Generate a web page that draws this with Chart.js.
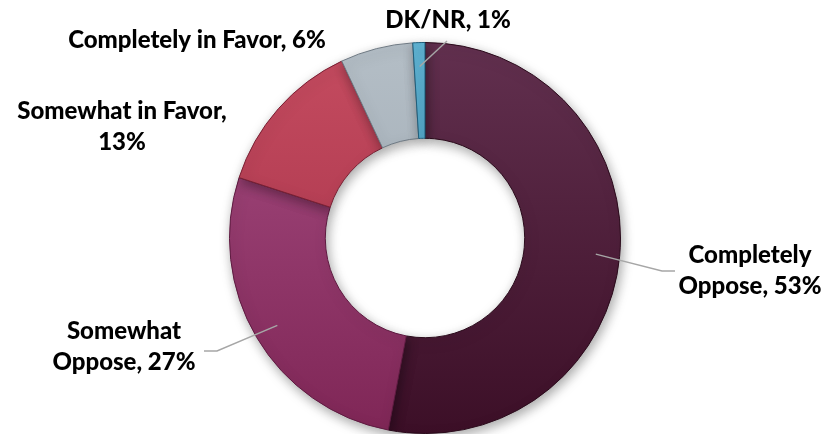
<!DOCTYPE html>
<html>
<head>
<meta charset="utf-8">
<script src="https://cdn.jsdelivr.net/npm/chart.js@4/dist/chart.umd.min.js"></script>
<style>
  html, body { margin: 0; padding: 0; background: #ffffff; }
  #wrap { position: relative; width: 829px; height: 434px; }
</style>
</head>
<body>
<div id="wrap"><canvas id="chart"></canvas></div>
<script>
// Values
const categories = ['Completely Oppose', 'Somewhat Oppose', 'Somewhat in Favor', 'Completely in Favor', 'DK/NR'];
const shares = [53, 27, 13, 6, 1];

// top / bottom shade of each slice
const topColors = ['#62304f', '#a64d82', '#c54c60', '#b4bec6', '#5fb3d3'];
const bottomColors = ['#3c0f27', '#7f2656', '#a02d45', '#97a2ac', '#2f7fa3'];
const edgeColors = ['#2a0a1b', '#5e1a40', '#7a1f33', '#6f7a84', '#1f5d7a'];

// label text lines, placement relative to the ring centre, and leader line (radius fraction + elbow)
const labelLines = [
    ['Completely', 'Oppose, 53%'],
    ['Somewhat', 'Oppose, 27%'],
    ['Somewhat in Favor,', '13%'],
    ['Completely in Favor, 6%'],
    ['DK/NR, 1%']
];
const labelAt = [
    { dx: 325, dy: 33 },
    { dx: -301, dy: 109 },
    { dx: -303, dy: -111 },
    { dx: -228, dy: -198 },
    { dx: 23, dy: -218 }
];
const leaders = [
    { r: 0.75, elbow: { dx: 237, dy: 33 }, end: { dx: 250, dy: 33 } },
    { r: 0.75, elbow: { dx: -208, dy: 113 }, end: { dx: -221, dy: 113 } },
    null,
    null,
    { r: 0.75, elbow: null, end: { dx: 22, dy: -197 } }
];

const shadowPlugin = {
    id: 'ringShadow',
    beforeDatasetsDraw(chart) {
        const ctx = chart.ctx;
        ctx.save();
        ctx.shadowColor = 'rgba(0,0,0,0.35)';
        ctx.shadowBlur = 12;
        ctx.shadowOffsetX = 2;
        ctx.shadowOffsetY = 4;
    },
    afterDatasetsDraw(chart) {
        chart.ctx.restore();
    }
};

const labelPlugin = {
    id: 'outsideLabels',
    afterDraw(chart) {
        const ctx = chart.ctx;
        const arcs = chart.getDatasetMeta(0).data;
        ctx.save();
        arcs.forEach((arc, i) => {
            const { x: cx, y: cy, startAngle, endAngle, innerRadius, outerRadius } = arc.getProps(['x', 'y', 'startAngle', 'endAngle', 'innerRadius', 'outerRadius'], true);
            const mid = (startAngle + endAngle) / 2;
            const ld = leaders[i];
            if (ld) {
                const rr = innerRadius + (outerRadius - innerRadius) * ld.r;
                ctx.beginPath();
                ctx.moveTo(cx + Math.cos(mid) * rr, cy + Math.sin(mid) * rr);
                if (ld.elbow) ctx.lineTo(cx + ld.elbow.dx, cy + ld.elbow.dy);
                ctx.lineTo(cx + ld.end.dx, cy + ld.end.dy);
                ctx.strokeStyle = '#a6a6a6';
                ctx.lineWidth = 1.5;
                ctx.stroke();
            }
            const lines = labelLines[i];
            const pos = labelAt[i];
            ctx.fillStyle = '#000000';
            ctx.font = "900 24px 'Lato', sans-serif";
            ctx.textAlign = 'center';
            ctx.textBaseline = 'middle';
            const lh = 31;
            const y0 = cy + pos.dy - (lines.length - 1) * lh / 2;
            lines.forEach((t, k) => ctx.fillText(t, cx + pos.dx, y0 + k * lh));
        });
        ctx.restore();
    }
};

function sliceFill(context) {
    const chart = context.chart;
    const area = chart.chartArea;
    if (!area) return topColors[context.dataIndex];
    const g = chart.ctx.createLinearGradient(0, area.top, 0, area.bottom);
    g.addColorStop(0, topColors[context.dataIndex]);
    g.addColorStop(1, bottomColors[context.dataIndex]);
    return g;
}

new Chart(document.getElementById('chart'), {
    type: 'doughnut',
    data: {
        labels: categories,
        datasets: [{
            data: shares,
            backgroundColor: sliceFill,
            borderColor: edgeColors,
            borderWidth: 1
        }]
    },
    options: {
        responsive: true,
        maintainAspectRatio: false,
        animation: false,
        cutout: '51%',
        layout: { padding: { top: 42, bottom: 0, left: 21, right: 0 } },
        plugins: {
            legend: { display: false },
            tooltip: { enabled: false }
        }
    },
    plugins: [shadowPlugin, labelPlugin]
});
</script>
</body>
</html>
